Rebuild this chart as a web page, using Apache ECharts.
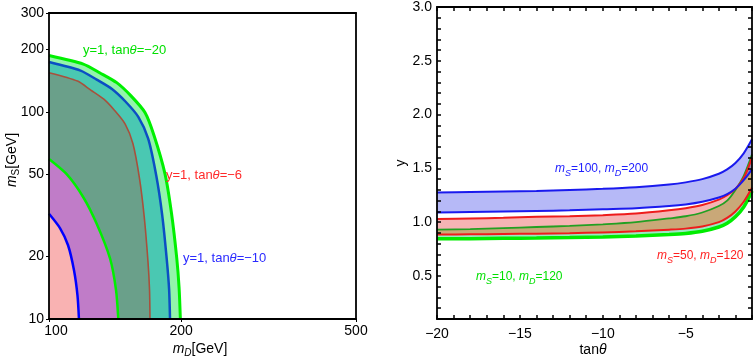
<!DOCTYPE html>
<html>
<head>
<meta charset="utf-8">
<script src="https://cdn.jsdelivr.net/npm/echarts@6/dist/echarts.min.js"></script>
<style>
html,body{margin:0;padding:0;background:#fff}
#main{width:754px;height:363px}
</style>
</head>
<body>
<div id="main"></div>
<script>
//left panel: m_D (x) against m_S (y), both log
var mDLabels = [100, 200, 500];
var mSLabels = [10, 20, 50, 100, 200, 300];

var outerGreenMD = [100, 119.7, 130.7, 142.6, 153.7, 165.4, 173.5, 183.7, 190.1, 195.4, 197.8, 199.1];
var outerGreenMS = [187, 170, 154, 138.3, 119.4, 99.2, 76.7, 50.2, 32.3, 19.6, 14.1, 10];
var outerBlueMD = [100, 118, 128.4, 139.1, 149.1, 159.7, 168.2, 175.5, 181, 185.4, 187.7, 188.6];
var outerBlueMS = [174, 158.2, 143, 128.9, 112.5, 94.6, 74.2, 49.1, 31.8, 19.4, 13.9, 10];
var brownMD = [100, 116.1, 124.5, 133.3, 140.9, 149.1, 155.3, 160.8, 164.8, 168, 169.4, 169.8];
var brownMS = [154.5, 140.8, 127.3, 115.1, 101.8, 87.3, 70.1, 47.3, 30.9, 19, 13.8, 10];
var innerGreenMD = [100, 109.7, 119.7, 128.4, 137.7, 142.1, 143.8];
var innerGreenMS = [59.2, 50, 38.7, 28.8, 19.6, 13.8, 10];
var innerBlueMD = [100, 106, 110.5, 114, 116.1, 117];
var innerBlueMS = [32.2, 27.4, 22.7, 17.2, 13, 10];

//right panel: tan(theta) against y
var tanLabels = [-20, -15, -10, -5];
var yLabels = [0.5, 1.0, 1.5, 2.0, 2.5, 3.0];
var tanT = [-20, -18, -16, -14, -12, -10, -8, -6, -5, -4, -3, -2.5, -2, -1.5, -1];
var blueUpper = [1.275, 1.28, 1.285, 1.29, 1.30, 1.31, 1.325, 1.35, 1.37, 1.40, 1.45, 1.49, 1.55, 1.64, 1.77];
var blueLower = [1.09, 1.095, 1.10, 1.105, 1.11, 1.12, 1.13, 1.15, 1.165, 1.19, 1.23, 1.26, 1.31, 1.39, 1.49];
var redUpper = [1.03, 1.035, 1.04, 1.05, 1.055, 1.065, 1.08, 1.11, 1.13, 1.16, 1.21, 1.25, 1.31, 1.41, 1.60];
var redLower = [0.885, 0.887, 0.89, 0.893, 0.897, 0.905, 0.915, 0.93, 0.94, 0.96, 1.0, 1.04, 1.10, 1.19, 1.32];
var greenUpper = [0.93, 0.935, 0.945, 0.955, 0.965, 0.98, 1.0, 1.035, 1.055, 1.09, 1.15, 1.20, 1.30, 1.43, 1.63];
var greenLower = [0.845, 0.847, 0.85, 0.853, 0.857, 0.863, 0.872, 0.885, 0.895, 0.915, 0.955, 0.99, 1.05, 1.14, 1.29];

var fontFam = "'Liberation Sans', Arial, sans-serif";

var tanTickVals = [];
for(var k = -20; k <= -1; k++) {
	tanTickVals.push(k);
}
var yTickVals = [];
for(var k = 1; k <= 30; k++) {
	yTickVals.push(k / 10);
}

function pairs(xs, ys) {
	var out = [];
	for(var i = 0; i < xs.length; i++) {
		out.push([xs[i], ys[i]]);
	}
	return out;
}

function minusText(v) {
	return v < 0 ? '\u2212' + Math.abs(v) : String(v);
}

function richSet(size, color) {
	var sub = Math.round(size * 0.72);
	return {
		n: {fontSize: size, fontFamily: fontFam, fill: color, lineHeight: size + 5},
		i: {fontSize: size, fontFamily: fontFam, fontStyle: 'italic', fill: color, lineHeight: size + 5},
		s: {fontSize: sub, fontFamily: fontFam, fill: color, lineHeight: 8, verticalAlign: 'bottom'},
		si: {fontSize: sub, fontFamily: fontFam, fontStyle: 'italic', fill: color, lineHeight: 8, verticalAlign: 'bottom'}
	};
}

function label(x, y, text, size, color, align, rot) {
	return {
		type: 'text',
		x: x,
		y: y,
		rotation: rot || 0,
		silent: true,
		z: 100,
		style: {
			text: text,
			rich: richSet(size, color),
			fill: color,
			fontSize: size,
			fontFamily: fontFam,
			align: align || 'left',
			verticalAlign: 'middle'
		}
	};
}

function frameAxis(gridIndex, type, min, max, pos, opts) {
	var ax = {
		gridIndex: gridIndex,
		type: type,
		min: min,
		max: max,
		position: pos,
		z: 10,
		axisLine: {show: true, onZero: false, lineStyle: {color: '#000', width: 1.8}},
		splitLine: {show: false},
		axisTick: {show: false},
		axisLabel: {show: false}
	};
	if(type == 'log') {
		ax.logBase = 10;
	}
	for(var key in opts) {
		ax[key] = opts[key];
	}
	return ax;
}

//left panel curve, filled down to the bottom of the frame
function leftCurve(xs, ys, lineColor, lineWidth, fill) {
	return {
		type: 'line',
		xAxisIndex: 0,
		yAxisIndex: 0,
		data: pairs(xs, ys),
		showSymbol: false,
		smooth: 0.25,
		silent: true,
		animation: false,
		lineStyle: {color: lineColor, width: lineWidth},
		areaStyle: {color: fill, opacity: 1, origin: 'start'}
	};
}

//right panel band between two curves
function band(lower, upper, fill) {
	return {
		type: 'custom',
		xAxisIndex: 2,
		yAxisIndex: 2,
		silent: true,
		animation: false,
		data: [[tanT[0], lower[0]]],
		renderItem: function(params, api) {
			var pts = [];
			for(var i = 0; i < tanT.length; i++) {
				pts.push(api.coord([tanT[i], upper[i]]));
			}
			for(var j = tanT.length - 1; j >= 0; j--) {
				pts.push(api.coord([tanT[j], lower[j]]));
			}
			return {type: 'polygon', shape: {points: pts}, style: {fill: fill}};
		}
	};
}

function rightLine(ys, color, width) {
	return {
		type: 'line',
		xAxisIndex: 2,
		yAxisIndex: 2,
		data: pairs(tanT, ys),
		showSymbol: false,
		smooth: 0.3,
		silent: true,
		animation: false,
		lineStyle: {color: color, width: width}
	};
}

var myChart = echarts.init(document.getElementById('main'), null, {renderer: 'canvas'});

var option = {
	backgroundColor: '#fff',
	animation: false,
	grid: [{
		left: 49,
		top: 13,
		width: 307,
		height: 306
	}, {
		left: 437,
		top: 6,
		width: 315,
		height: 313
	}],
	xAxis: [
		frameAxis(0, 'log', 100, 500, 'bottom', {
			axisTick: {show: true, inside: false, length: 3, customValues: mDLabels, lineStyle: {color: '#000'}},
			axisLabel: {show: true, margin: 5, customValues: mDLabels, color: '#000', fontSize: 14, fontFamily: fontFam,
				formatter: function(v) { return v == 100 ? '{p|100}' : String(v); },
				rich: {p: {padding: [0, 0, 0, 14], fontSize: 14, fontFamily: fontFam, color: '#000'}}}
		}),
		frameAxis(0, 'log', 100, 500, 'top', {}),
		frameAxis(1, 'value', -20, -1, 'bottom', {
			axisTick: {show: true, inside: true, length: 4, customValues: tanTickVals, lineStyle: {color: '#000', width: 1.5}},
			axisLabel: {show: true, margin: 8, customValues: tanLabels, color: '#000', fontSize: 14, fontFamily: fontFam, formatter: minusText}
		}),
		frameAxis(1, 'value', -20, -1, 'top', {
			axisTick: {show: true, inside: true, length: 4, customValues: tanTickVals, lineStyle: {color: '#000', width: 1.5}}
		})
	],
	yAxis: [
		frameAxis(0, 'log', 10, 300, 'left', {
			axisTick: {show: true, inside: false, length: 3, customValues: mSLabels, lineStyle: {color: '#000'}},
			axisLabel: {show: true, margin: 5, customValues: mSLabels, color: '#000', fontSize: 14, fontFamily: fontFam}
		}),
		frameAxis(0, 'log', 10, 300, 'right', {}),
		frameAxis(1, 'value', 0.1, 3.0, 'left', {
			axisTick: {show: true, inside: true, length: 4, customValues: yTickVals, lineStyle: {color: '#000', width: 1.5}},
			axisLabel: {show: true, margin: 5, customValues: yLabels, color: '#000', fontSize: 14, fontFamily: fontFam,
				formatter: function(v) { return v.toFixed(1); }}
		}),
		frameAxis(1, 'value', 0.1, 3.0, 'right', {
			axisTick: {show: true, inside: true, length: 4, customValues: yTickVals, lineStyle: {color: '#000', width: 1.5}}
		})
	],
	series: [
		leftCurve(outerGreenMD, outerGreenMS, '#00f000', 3, '#93f4ab'),
		leftCurve(outerBlueMD, outerBlueMS, '#0b4fc4', 2.5, '#4ac8b2'),
		leftCurve(brownMD, brownMS, '#a8503c', 1.6, '#6aa08a'),
		leftCurve(innerGreenMD, innerGreenMS, '#00f000', 2.5, '#c07cc8'),
		leftCurve(innerBlueMD, innerBlueMS, '#0000ff', 2.5, '#f9b2b2'),
		band(redLower, redUpper, '#f6b4b4'),
		band(greenLower, greenUpper, '#9ae8c4'),
		band(redLower, greenUpper, '#c9a878'),
		band(blueLower, blueUpper, 'rgba(80,88,235,0.42)'),
		rightLine(greenLower, '#00ec00', 3.5),
		rightLine(redLower, '#ee1c1c', 2),
		rightLine(greenUpper, '#22a022', 1.8),
		rightLine(redUpper, '#ee1c1c', 2),
		rightLine(blueLower, '#1a1aee', 2),
		rightLine(blueUpper, '#1a1aee', 2)
	],
	graphic: {
		elements: [
			label(83, 50, '{n|y=1, tan}{i|\u03b8}{n|=\u221220}', 13, '#00e000'),
			label(166, 175, '{n|y=1, tan}{i|\u03b8}{n|=\u22126}', 13, '#ff2a2a'),
			label(183, 258, '{n|y=1, tan}{i|\u03b8}{n|=\u221210}', 13, '#2a2aff'),
			label(555, 169, '{i|m}{si|S}{n|=100, }{i|m}{si|D}{n|=200}', 12, '#2020ff'),
			label(657, 256, '{i|m}{si|S}{n|=50, }{i|m}{si|D}{n|=120}', 12, '#ff2020'),
			label(476, 277, '{i|m}{si|S}{n|=10, }{i|m}{si|D}{n|=120}', 12, '#00e000'),
			label(12, 160, '{i|m}{s|S}{n|[GeV]}', 14, '#000', 'center', Math.PI / 2),
			label(200, 349, '{i|m}{si|D}{n|[GeV]}', 14, '#000', 'center'),
			label(401, 163, '{n|y}', 14, '#000', 'center', Math.PI / 2),
			label(593, 350, '{n|tan}{i|\u03b8}', 14, '#000', 'center')
		]
	}
};
myChart.setOption(option);
</script>
</body>
</html>
